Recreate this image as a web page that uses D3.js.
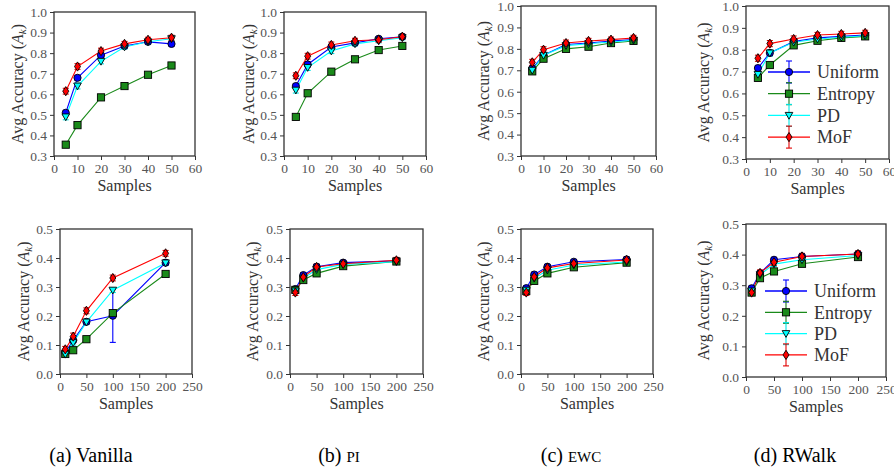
<!DOCTYPE html>
<meta charset="utf-8">
<body style="margin:0">
  <svg width="894" height="472" style="font-family: 'Liberation Serif'"></svg>

  <script src="https://cdnjs.cloudflare.com/ajax/libs/d3/7.8.5/d3.min.js"></script>
  <script>

// sample counts on the x axis
const xTop = [5, 10, 20, 30, 40, 50];
const xBottom = [10, 25, 50, 100, 200];

const seriesNames = ["Uniform", "Entropy", "PD", "MoF"];

// rows: Uniform, Entropy, PD, MoF
const vanillaTop = [
  [0.51, 0.68, 0.79, 0.835, 0.855, 0.845],
  [0.355, 0.45, 0.585, 0.64, 0.695, 0.74],
  [0.49, 0.64, 0.76, 0.83, 0.855, 0.87],
  [0.615, 0.735, 0.81, 0.845, 0.865, 0.875]
];
const piTop = [
  [0.64, 0.745, 0.83, 0.85, 0.87, 0.88],
  [0.49, 0.605, 0.71, 0.77, 0.815, 0.835],
  [0.62, 0.73, 0.81, 0.845, 0.86, 0.875],
  [0.69, 0.785, 0.84, 0.86, 0.865, 0.88]
];
const ewcTop = [
  [0.708, 0.77, 0.82, 0.827, 0.837, 0.843],
  [0.695, 0.754, 0.80, 0.81, 0.827, 0.837],
  [0.70, 0.77, 0.815, 0.824, 0.832, 0.84],
  [0.737, 0.796, 0.827, 0.837, 0.843, 0.851]
];
const rwalkTop = [
  [0.716, 0.785, 0.838, 0.854, 0.861, 0.867],
  [0.671, 0.73, 0.82, 0.841, 0.854, 0.861],
  [0.687, 0.785, 0.834, 0.849, 0.857, 0.864],
  [0.761, 0.828, 0.849, 0.867, 0.872, 0.877]
];

const vanillaBottom = [
  [0.074, 0.116, 0.18, 0.201, 0.384],
  [0.069, 0.082, 0.12, 0.21, 0.345],
  [0.068, 0.108, 0.179, 0.289, 0.383],
  [0.085, 0.129, 0.218, 0.331, 0.416]
];
const piBottom = [
  [0.293, 0.341, 0.37, 0.384, 0.39],
  [0.29, 0.324, 0.347, 0.372, 0.388],
  [0.286, 0.33, 0.36, 0.378, 0.387],
  [0.281, 0.334, 0.369, 0.38, 0.392]
];
const ewcBottom = [
  [0.296, 0.343, 0.37, 0.387, 0.395],
  [0.286, 0.321, 0.347, 0.368, 0.384],
  [0.289, 0.33, 0.358, 0.376, 0.386],
  [0.281, 0.335, 0.366, 0.381, 0.393]
];
const rwalkBottom = [
  [0.29, 0.339, 0.383, 0.394, 0.402],
  [0.276, 0.323, 0.345, 0.37, 0.392],
  [0.281, 0.334, 0.369, 0.383, 0.397],
  [0.276, 0.34, 0.375, 0.394, 0.402]
];

// error bar half-widths (same series order)
const errTop = [
  [0.012, 0.012, 0.012, 0.01, 0.01, 0.01],
  [0.008, 0.008, 0.008, 0.008, 0.008, 0.008],
  [0.014, 0.014, 0.012, 0.01, 0.01, 0.01],
  [0.014, 0.014, 0.014, 0.012, 0.012, 0.012]
];
const errBottom = [
  [0.008, 0.008, 0.008, 0.008, 0.008],
  [0.006, 0.006, 0.006, 0.006, 0.006],
  [0.008, 0.008, 0.008, 0.008, 0.008],
  [0.01, 0.01, 0.01, 0.01, 0.01]
];
const errVanillaBottom = [
  [0.008, 0.008, 0.008, 0.092, 0.008],
  [0.006, 0.006, 0.006, 0.006, 0.006],
  [0.008, 0.008, 0.008, 0.008, 0.008],
  [0.01, 0.012, 0.01, 0.01, 0.01]
];

const topYTicks = [0.3, 0.4, 0.5, 0.6, 0.7, 0.8, 0.9, 1.0];
const bottomYTicks = [0.0, 0.1, 0.2, 0.3, 0.4, 0.5];
const topXTicks = [0, 10, 20, 30, 40, 50, 60];
const bottomXTicks = [0, 50, 100, 150, 200, 250];

const captions = ["(a) Vanilla", "(b) PI", "(c) EWC", "(d) RWalk"];

const colors = ["#0000ff", "#1a8a1a", "#00ffff", "#ff0000"];
const errColors = ["#0000ff", "#1a7a1a", "#00e5e5", "#e00000"];

const FONT = "Liberation Serif";
const svg = d3.select("svg");

// panel boxes in pixels
const panels = [
  {l: 54, r: 195, t: 12, b: 156, lab: 17, xs: xTop, ys: vanillaTop, err: errTop, top: true},
  {l: 284, r: 426, t: 12, b: 156, lab: 248, xs: xTop, ys: piTop, err: errTop, top: true},
  {l: 521, r: 656, t: 6, b: 156, lab: 483, xs: xTop, ys: ewcTop, err: errTop, top: true},
  {l: 746, r: 889, t: 6, b: 159, lab: 703, xs: xTop, ys: rwalkTop, err: errTop, top: true, legend: true},
  {l: 60, r: 192, t: 229, b: 374, lab: 23, xs: xBottom, ys: vanillaBottom, err: errVanillaBottom, top: false},
  {l: 290, r: 423, t: 229, b: 374, lab: 252, xs: xBottom, ys: piBottom, err: errBottom, top: false},
  {l: 521, r: 653, t: 229, b: 374, lab: 483, xs: xBottom, ys: ewcBottom, err: errBottom, top: false},
  {l: 746, r: 886, t: 224, b: 377, lab: 703, xs: xBottom, ys: rwalkBottom, err: errBottom, top: false, legend: true}
];

function txt(sel) {
  return sel.attr("font-family", FONT).style("font-family", `"${FONT}"`);
}

function marker(g, i, x, y) {
  const m = g.append("g").attr("transform", `translate(${x},${y})`);
  let s;
  if (i === 0) s = m.append("circle").attr("r", 3.6);
  else if (i === 1) s = m.append("rect").attr("x", -3.6).attr("y", -3.6).attr("width", 7.2).attr("height", 7.2);
  else if (i === 2) s = m.append("path").attr("d", "M-3.8,-3L3.8,-3L0,3.8Z");
  else s = m.append("path").attr("d", "M0,-4.6L3,0L0,4.6L-3,0Z");
  s.attr("fill", colors[i]).attr("stroke", "#000").attr("stroke-width", 0.9);
}

function errbar(g, i, x, y0, y1) {
  g.append("line").attr("x1", x).attr("x2", x).attr("y1", y0).attr("y2", y1)
    .attr("stroke", errColors[i]).attr("stroke-width", 1.1);
  [y0, y1].forEach(yy => g.append("line").attr("x1", x - 3).attr("x2", x + 3)
    .attr("y1", yy).attr("y2", yy).attr("stroke", errColors[i]).attr("stroke-width", 1.1));
}

panels.forEach(p => {
  const x = d3.scaleLinear().domain(p.top ? [0, 60] : [0, 250]).range([p.l, p.r]);
  const y = d3.scaleLinear().domain(p.top ? [0.3, 1.0] : [0.0, 0.5]).range([p.b, p.t]);
  const g = svg.append("g");

  const xa = g.append("g").attr("transform", `translate(0,${p.b})`)
    .call(d3.axisBottom(x).tickValues(p.top ? topXTicks : bottomXTicks).tickSize(4).tickPadding(3).tickFormat(d3.format("d")));
  const ya = g.append("g").attr("transform", `translate(${p.l},0)`)
    .call(d3.axisLeft(y).tickValues(p.top ? topYTicks : bottomYTicks).tickSize(4).tickPadding(3).tickFormat(d3.format(".1f")));
  [xa, ya].forEach(a => {
    txt(a).attr("font-size", 13.5);
    a.select(".domain").remove();
    a.selectAll(".tick line").attr("stroke", "#333");
    txt(a.selectAll("text")).attr("font-size", 13.5).attr("fill", "#555");
  });

  g.append("rect").attr("fill", "none").attr("stroke", "#333").attr("stroke-width", 1.3)
    .attr("x", p.l).attr("y", p.t).attr("width", p.r - p.l).attr("height", p.b - p.t);

  txt(g.append("text")).attr("x", (p.l + p.r) / 2).attr("y", p.b + 35)
    .attr("text-anchor", "middle").attr("font-size", 16).attr("fill", "#333").text("Samples");

  const yl = txt(g.append("text")).attr("transform", `translate(${p.lab},${(p.t + p.b) / 2}) rotate(-90)`)
    .attr("text-anchor", "middle").attr("dy", "0.35em").attr("font-size", 16).attr("fill", "#333");
  yl.append("tspan").text("Avg Accuracy (");
  yl.append("tspan").attr("font-style", "italic").text("A");
  yl.append("tspan").attr("font-style", "italic").attr("font-size", 11).attr("dy", 3).text("k");
  yl.append("tspan").attr("dy", -3).text(")");

  const line = d3.line().x(d => x(d[0])).y(d => y(d[1]));
  p.ys.forEach((vals, i) => {
    const pts = p.xs.map((xv, j) => [xv, vals[j]]);
    g.append("path").attr("d", line(pts)).attr("fill", "none")
      .attr("stroke", colors[i]).attr("stroke-width", 1.1);
  });
  p.ys.forEach((vals, i) => {
    p.xs.forEach((xv, j) => {
      const e = p.err[i][j];
      errbar(g, i, x(xv), y(vals[j] - e), y(vals[j] + e));
    });
  });
  p.ys.forEach((vals, i) => {
    p.xs.forEach((xv, j) => marker(g, i, x(xv), y(vals[j])));
  });

  if (p.legend) {
    const lx = p.top ? 773 : 770;
    const ly0 = p.top ? 72 : 291;
    const step = p.top ? 21.7 : 21.3;
    seriesNames.forEach((name, i) => {
      const yy = ly0 + i * step;
      const cx = lx + 16;
      g.append("line").attr("x1", lx - 5).attr("x2", lx + 37).attr("y1", yy).attr("y2", yy)
        .attr("stroke", colors[i]).attr("stroke-width", 1.3);
      errbar(g, i, cx, yy - 11, yy + 11);
      marker(g, i, cx, yy);
      txt(g.append("text")).attr("x", lx + 44).attr("y", yy).attr("dy", "0.35em")
        .attr("font-size", 18).attr("fill", "#333").text(name);
    });
  }
});

// sub-figure captions
const capX = [91, 339, 571, 795];
captions.forEach((c, i) => {
  const t = txt(svg.append("text")).attr("x", capX[i]).attr("y", 462)
    .attr("text-anchor", "middle").attr("font-size", 20).attr("fill", "#000");
  const parts = c.split(" ");
  t.append("tspan").text(parts[0] + " ");
  if (parts[1] === "PI" || parts[1] === "EWC") {
    t.append("tspan").attr("font-size", 15).text(parts[1]);
  } else {
    t.append("tspan").text(parts[1]);
  }
});

  </script>
</body>
